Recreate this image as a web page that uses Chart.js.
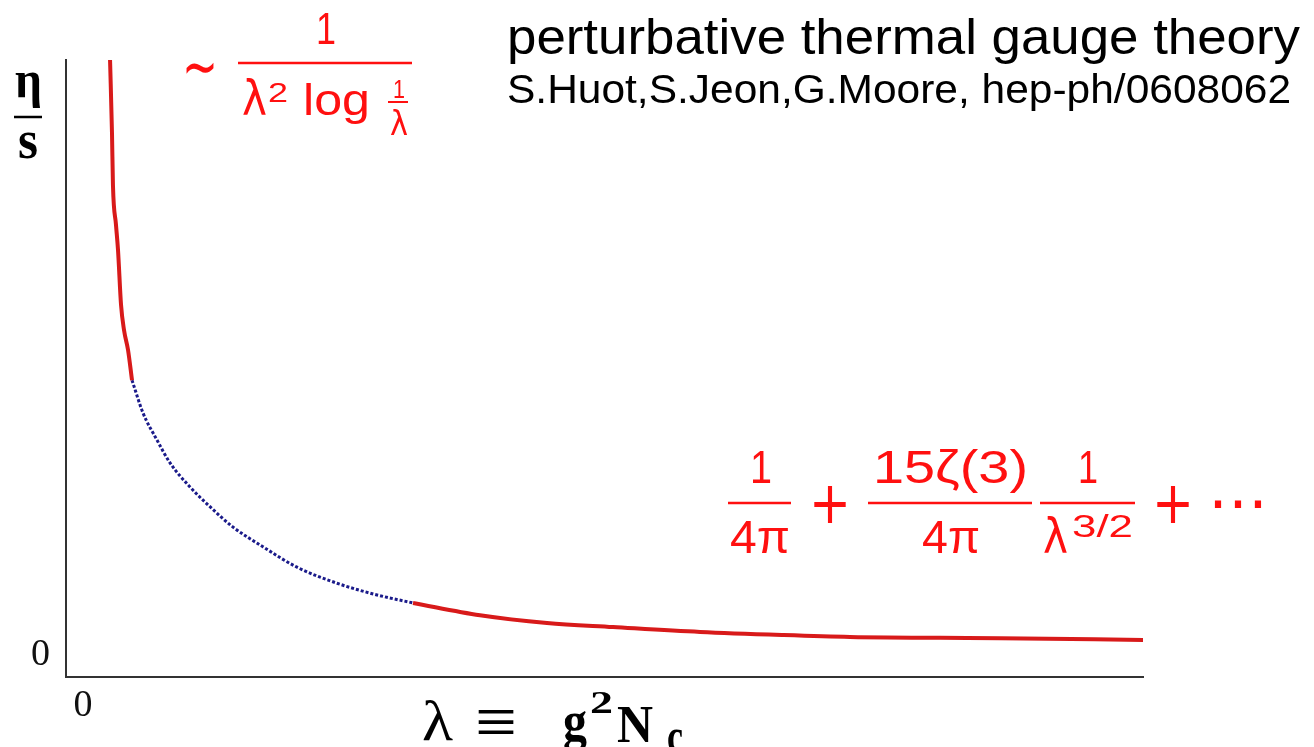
<!DOCTYPE html>
<html lang="en">
<head>
    <meta charset="UTF-8">
    <title>eta/s perturbative</title>
    <script src="https://cdn.jsdelivr.net/npm/chart.js"></script>
    <style>
        body { margin: 0; background: #fff; }
        canvas { display: block; }
    </style>
</head>
<body>
    <canvas id="etaChart" width="1314" height="747"></canvas>

    <script>
    // upper red branch (small lambda, ~1/(lambda^2 log 1/lambda))
    const lambdaSmall = [0.409, 0.427, 0.436, 0.464, 0.483, 0.511, 0.539, 0.576, 0.613];
    const etaSmall    = [10.0, 8.82, 7.97, 7.33, 6.92, 6.03, 5.62, 5.30, 4.81];

    // blue dotted interpolation in between
    const lambdaMid = [0.613, 0.715, 0.845, 0.966, 1.151, 1.337, 1.551, 1.829, 2.145, 2.516, 2.888, 3.222];
    const etaMid    = [4.81, 4.28, 3.84, 3.47, 3.08, 2.76, 2.43, 2.11, 1.78, 1.52, 1.33, 1.20];

    // lower red branch (large lambda expansion)
    const lambdaLarge = [3.222, 3.844, 4.466, 5.079, 5.887, 6.657, 7.279, 8.672, 10.0];
    const etaLarge    = [1.20, 1.00, 0.875, 0.81, 0.73, 0.68, 0.65, 0.63, 0.60];

    const xTickLabels = ['0'];
    const yTickLabels = ['0'];

    const RED = '#ff1010';
    const toXY = (xs, ys) => xs.map((x, i) => ({ x: x, y: ys[i] }));

    // fill text squeezed/stretched into [x0, x1]
    function put(ctx, text, font, x0, x1, baseline) {
        ctx.font = font;
        const w = ctx.measureText(text).width;
        ctx.save();
        ctx.translate(x0, baseline);
        ctx.scale((x1 - x0) / w, 1);
        ctx.fillText(text, 0, 0);
        ctx.restore();
    }
    function bar(ctx, x0, x1, y) {
        ctx.beginPath();
        ctx.moveTo(x0, y);
        ctx.lineTo(x1, y);
        ctx.stroke();
    }

    const annotations = {
        id: 'annotations',
        afterDraw(chart) {
            const ctx = chart.ctx;
            ctx.save();
            ctx.textAlign = 'left';
            ctx.textBaseline = 'alphabetic';

            // titles
            ctx.fillStyle = '#000';
            put(ctx, 'perturbative thermal gauge theory', '50px "Liberation Sans"', 507, 1300, 54);
            put(ctx, 'S.Huot,S.Jeon,G.Moore, hep-ph/0608062', '41px "Liberation Sans"', 507, 1291, 103);

            // y label eta / s
            ctx.strokeStyle = '#000';
            ctx.lineWidth = 2.5;
            put(ctx, 'η', 'bold 52px "Liberation Serif"', 15, 42, 97);
            bar(ctx, 14, 42, 117);
            put(ctx, 's', 'bold 54px "Liberation Serif"', 18, 38, 158);

            // x label  lambda = g^2 N_c
            put(ctx, 'λ', '58px "Liberation Serif"', 422, 453, 740);
            put(ctx, '≡', '72px "Liberation Serif"', 475, 517, 746);
            put(ctx, 'g', 'bold 58px "Liberation Serif"', 563, 587, 740);
            put(ctx, '2', 'bold 32px "Liberation Serif"', 590, 613, 713);
            put(ctx, 'N', 'bold 52px "Liberation Serif"', 617, 653, 742);
            put(ctx, 'c', 'bold 48px "Liberation Serif"', 667, 683, 752);

            // red formulas
            ctx.fillStyle = RED;
            ctx.strokeStyle = RED;
            ctx.lineWidth = 2.5;

            // ~ 1 / (lambda^2 log 1/lambda)
            put(ctx, '∼', '64px "DejaVu Sans"', 182, 218, 88);
            put(ctx, '1', '44px "Liberation Sans"', 316, 336, 44);
            bar(ctx, 238, 412, 63);
            put(ctx, 'λ', '48px "DejaVu Sans"', 242, 267, 115);
            put(ctx, '2', '28px "Liberation Sans"', 268, 288, 102);
            put(ctx, 'log', '44px "Liberation Sans"', 303, 370, 115);
            put(ctx, '1', '26px "Liberation Sans"', 393, 405, 98);
            ctx.lineWidth = 2;
            bar(ctx, 388, 408, 102);
            put(ctx, 'λ', '34px "DejaVu Sans"', 390, 408, 135);

            // 1/4pi + 15 zeta(3)/4pi 1/lambda^{3/2} + ...
            ctx.lineWidth = 2.5;
            put(ctx, '1', '46px "Liberation Sans"', 750, 772, 483);
            bar(ctx, 728, 791, 503);
            put(ctx, '4π', '46px "Liberation Sans"', 730, 790, 553);
            put(ctx, '+', '58px "DejaVu Sans"', 809, 851, 523);
            put(ctx, '15ζ(3)', '46px "Liberation Sans"', 873, 1028, 483);
            bar(ctx, 868, 1032, 503);
            put(ctx, '4π', '46px "Liberation Sans"', 922, 980, 553);
            put(ctx, '1', '46px "Liberation Sans"', 1078, 1098, 483);
            bar(ctx, 1040, 1135, 503);
            put(ctx, 'λ', '48px "DejaVu Sans"', 1043, 1068, 553);
            put(ctx, '3/2', '32px "Liberation Sans"', 1072, 1133, 537);
            put(ctx, '+', '58px "DejaVu Sans"', 1152, 1194, 523);
            put(ctx, '⋯', '60px "DejaVu Sans"', 1208, 1268, 523);

            ctx.restore();
        }
    };

    const ctx = document.getElementById('etaChart').getContext('2d');
    new Chart(ctx, {
        type: 'line',
        data: {
            datasets: [{
                label: 'small lambda',
                data: toXY(lambdaSmall, etaSmall),
                borderColor: '#d81a1a',
                borderWidth: 4,
                pointRadius: 0,
                cubicInterpolationMode: 'monotone'
            }, {
                label: 'interpolation',
                data: toXY(lambdaMid, etaMid),
                borderColor: '#1a1a8a',
                borderWidth: 3,
                borderDash: [3, 2],
                pointRadius: 0,
                cubicInterpolationMode: 'monotone'
            }, {
                label: 'large lambda',
                data: toXY(lambdaLarge, etaLarge),
                borderColor: '#d81a1a',
                borderWidth: 4,
                pointRadius: 0,
                cubicInterpolationMode: 'monotone'
            }]
        },
        options: {
            responsive: false,
            animation: false,
            devicePixelRatio: 1,
            layout: { padding: { top: 60, right: 171, left: 0, bottom: 0 } },
            plugins: {
                legend: { display: false },
                tooltip: { enabled: false }
            },
            scales: {
                x: {
                    type: 'linear',
                    min: 0,
                    max: 10,
                    grid: { display: false, drawTicks: false },
                    border: { display: true, color: '#333', width: 2 },
                    ticks: {
                        stepSize: 10,
                        padding: 6,
                        labelOffset: 17,
                        maxRotation: 0,
                        color: '#111',
                        font: { family: 'Liberation Serif', size: 38 },
                        callback: (v, i) => xTickLabels[i] || ''
                    },
                    afterFit: (scale) => { scale.height = 70; }
                },
                y: {
                    min: 0,
                    max: 10,
                    grid: { display: false, drawTicks: false },
                    border: { display: true, color: '#333', width: 2 },
                    ticks: {
                        stepSize: 10,
                        padding: 16,
                        labelOffset: -22,
                        color: '#111',
                        font: { family: 'Liberation Serif', size: 38 },
                        callback: (v, i) => yTickLabels[i] || ''
                    },
                    afterFit: (scale) => { scale.width = 66; }
                }
            }
        },
        plugins: [annotations]
    });
    </script>
</body>
</html>
